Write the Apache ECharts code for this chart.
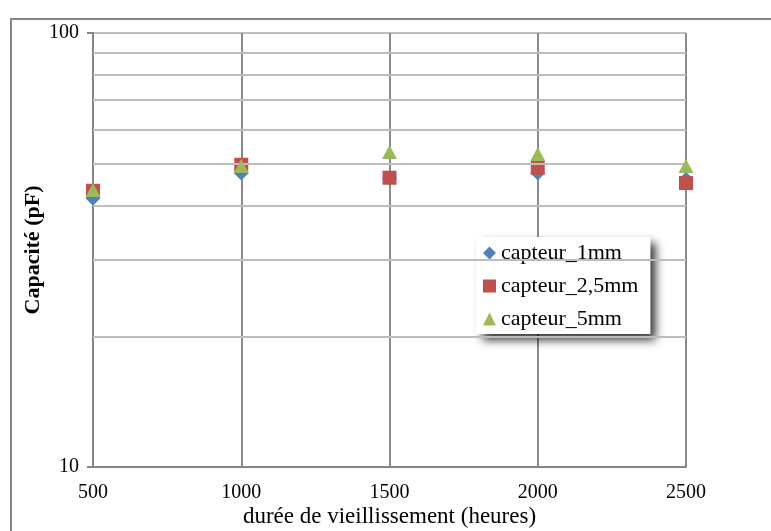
<!DOCTYPE html>
<html>
<head>
<meta charset="utf-8">
<script src="https://cdn.jsdelivr.net/npm/echarts@6/dist/echarts.min.js"></script>
<style>
  html, body { margin: 0; padding: 0; background: #fff; }
  #chart { width: 771px; height: 531px; }
</style>
</head>
<body>
<div id="chart"></div>
<script>
// Ageing duration (hours) and measured capacitance (pF) for each sensor size
const hours = [500, 1000, 1500, 2000, 2500];
const capteur1mm  = [41.6, 47.6, 46.3, 47.6, 46.0];
const capteur25mm = [43.3, 49.7, 46.4, 48.9, 45.1];
const capteur5mm  = [43.5, 49.4, 53.2, 52.6, 49.4];
const seriesNames = ['capteur_1mm', 'capteur_2,5mm', 'capteur_5mm'];
// intermediate horizontal gridlines on the log scale
const minorGrid = [20, 30, 40, 50, 60, 70, 80, 90];

const FONT = '"Liberation Serif", "Times New Roman", serif';
const pairs = arr => hours.map((h, i) => [h, arr[i]]);

const chart = echarts.init(document.getElementById('chart'), null, { renderer: 'canvas' });

chart.setOption({
  animation: false,
  backgroundColor: '#ffffff',
  textStyle: { fontFamily: FONT, color: '#000' },
  graphic: [{
    type: 'rect',
    shape: { x: 11, y: 19, width: 800, height: 600 },
    style: { fill: 'none', stroke: '#868686', lineWidth: 2 },
    silent: true,
    z: -10
  }],
  grid: { left: 93, right: 85, top: 33, bottom: 64, outerBoundsMode: 'none', containLabel: false },
  xAxis: {
    type: 'value',
    min: 500,
    max: 2500,
    interval: 500,
    name: 'durée de vieillissement (heures)',
    nameLocation: 'middle',
    nameGap: 38,
    nameMoveOverlap: false,
    nameTextStyle: { fontFamily: FONT, fontSize: 23, color: '#000' },
    axisLine: { show: true, lineStyle: { color: '#868686', width: 2 } },
    axisTick: { show: false },
    axisLabel: { fontFamily: FONT, fontSize: 20, color: '#000', margin: 16, formatter: v => String(v) },
    splitLine: { show: true, lineStyle: { color: '#8a8a8a', width: 2 } }
  },
  yAxis: {
    type: 'log',
    logBase: 10,
    min: 10,
    max: 100,
    name: 'Capacité (pF)',
    nameLocation: 'middle',
    nameGap: 49,
    nameMoveOverlap: false,
    nameTextStyle: { fontFamily: FONT, fontSize: 22, fontWeight: 'bold', color: '#000' },
    axisLine: { show: true, lineStyle: { color: '#868686', width: 2 } },
    axisTick: { show: true, length: 6, lineStyle: { color: '#868686', width: 2 } },
    axisLabel: { fontFamily: FONT, fontSize: 20, color: '#000', margin: 14, formatter: v => String(v) },
    splitLine: { show: true, lineStyle: { color: '#bdbdbd', width: 2 } }
  },
  legend: {
    orient: 'vertical',
    left: 476,
    top: 237,
    padding: [1, 12, 0, 7],
    itemGap: 3,
    itemWidth: 13,
    itemHeight: 13,
    itemTextGap: 4,
    backgroundColor: '#ffffff',
    shadowColor: 'rgba(0,0,0,0.8)',
    shadowBlur: 9,
    shadowOffsetX: 6,
    shadowOffsetY: 6,
    textStyle: { fontFamily: FONT, fontSize: 22, lineHeight: 30, color: '#000' },
    data: [
      { name: seriesNames[0], icon: 'diamond' },
      { name: seriesNames[1], icon: 'rect' },
      { name: seriesNames[2], icon: 'triangle' }
    ]
  },
  series: [
    {
      type: 'line',
      data: [],
      silent: true,
      z: 1,
      markLine: {
        silent: true,
        symbol: 'none',
        label: { show: false },
        lineStyle: { color: '#bdbdbd', width: 2, type: 'solid' },
        data: minorGrid.map(v => ({ yAxis: v }))
      }
    },
    {
      name: seriesNames[0],
      type: 'scatter',
      symbol: 'diamond',
      symbolSize: 15,
      itemStyle: { color: '#4f81bd', opacity: 1 },
      data: pairs(capteur1mm),
      z: 3
    },
    {
      name: seriesNames[1],
      type: 'scatter',
      symbol: 'rect',
      symbolSize: 14,
      itemStyle: { color: '#c0504d', opacity: 1 },
      data: pairs(capteur25mm),
      z: 4
    },
    {
      name: seriesNames[2],
      type: 'scatter',
      symbol: 'triangle',
      symbolSize: [15, 14],
      itemStyle: { color: '#9bbb59', opacity: 1 },
      data: pairs(capteur5mm),
      z: 5
    }
  ]
});
</script>
</body>
</html>
